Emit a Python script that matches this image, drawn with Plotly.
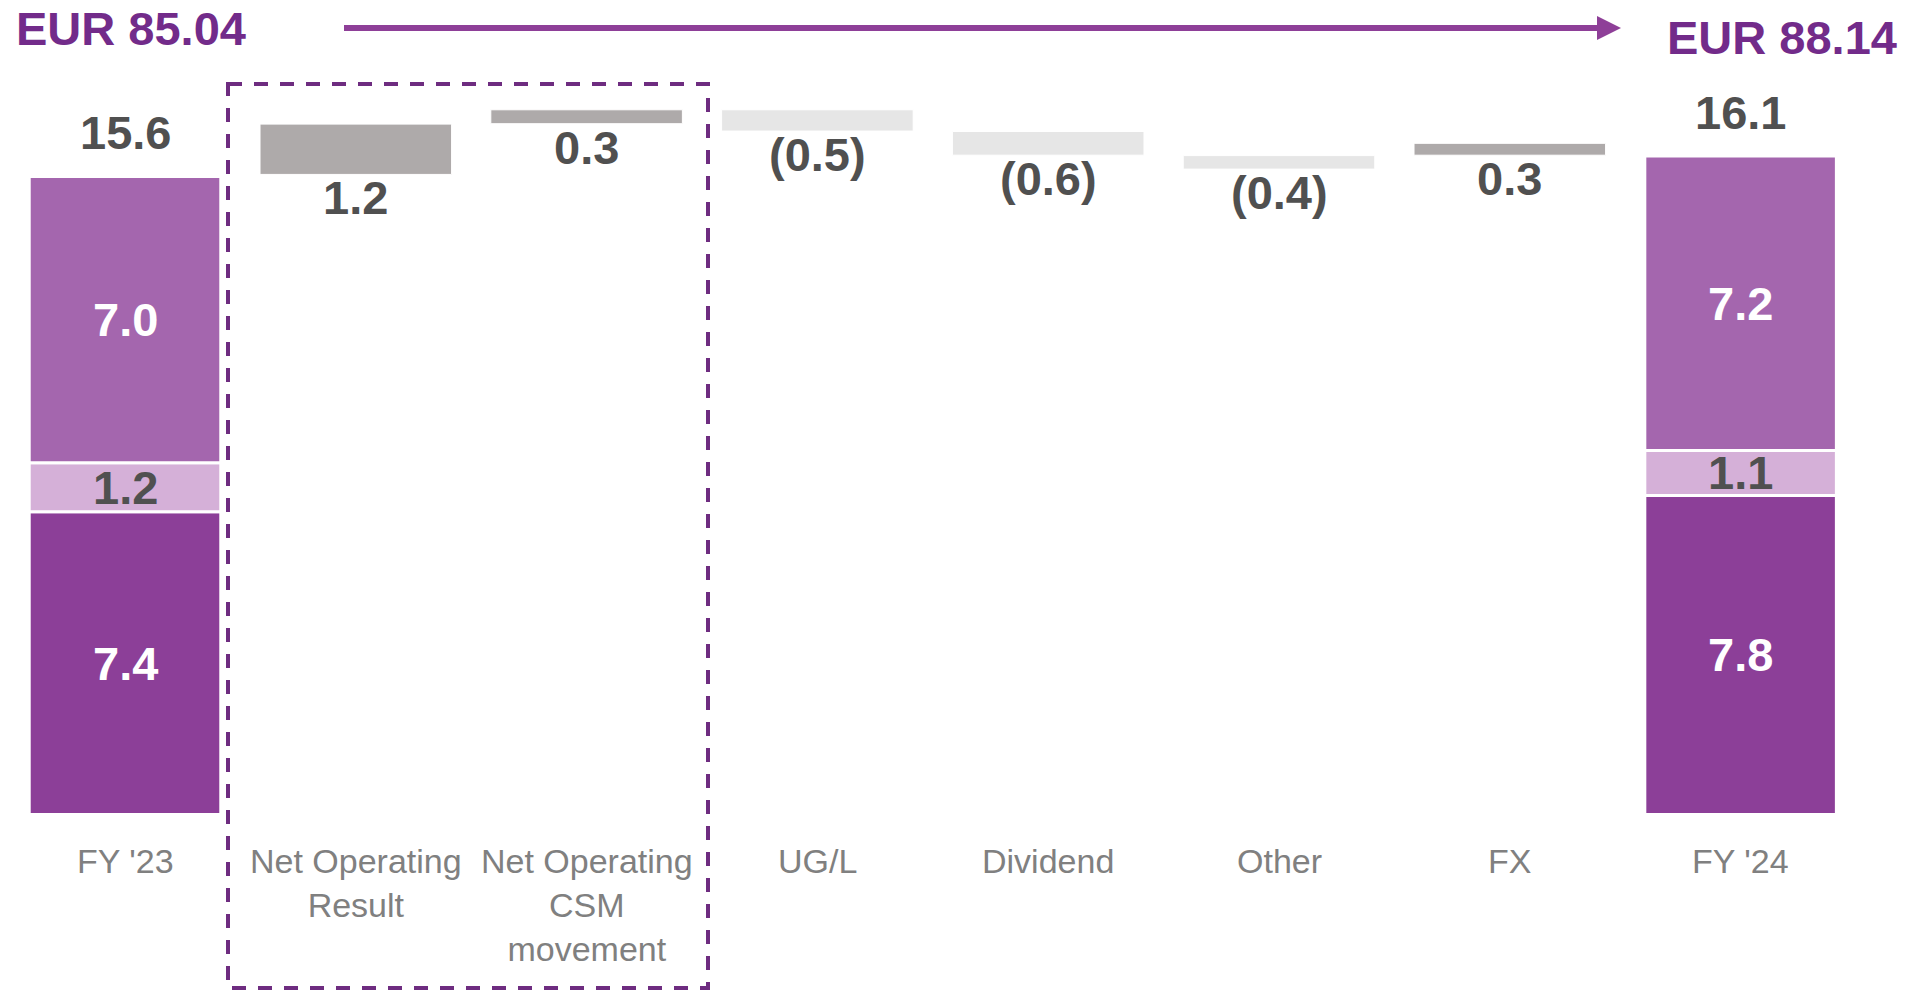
import plotly.graph_objects as go

# ---------------- data ----------------
categories = ["FY '23", "Net Operating<br>Result", "Net Operating<br>CSM<br>movement",
              "UG/L", "Dividend", "Other", "FX", "FY '24"]

# stacked totals (FY '23, FY '24): bottom / middle / top segments
seg_bottom = [7.4, 7.8]
seg_middle = [1.2, 1.1]
seg_top = [7.0, 7.2]
total_labels = ["15.6", "16.1"]

# movements between the two totals (start level and change)
move_base = [15.65, 16.89, 17.23, 16.70, 16.11, 16.12]
move_delta = [1.23, 0.34, -0.52, -0.58, -0.33, 0.29]
move_labels = ["1.2", "0.3", "(0.5)", "(0.6)", "(0.4)", "0.3"]

eur_start = "EUR 85.04"
eur_end = "EUR 88.14"

# ---------------- style ----------------
FONT = "Liberation Sans, Arial, sans-serif"
C_DARK = "#8C3F98"
C_MID = "#A466AE"
C_LIGHT = "#D5B0D8"
C_POS = "#AEAAAA"
C_NEG = "#E6E6E6"
C_TXT = "#505050"
C_CAT = "#808080"
C_EUR = "#722B8A"
C_ARROW = "#8E3F98"
C_BOX = "#6E2C80"

W, H = 1908, 990
BAR_W = 0.83
total_x = [0, len(categories) - 1]
move_x = list(range(1, len(categories) - 1))

fig = go.Figure()

mid_base = [b for b in seg_bottom]
top_base = [b + m for b, m in zip(seg_bottom, seg_middle)]
totals = [b + m + t for b, m, t in zip(seg_bottom, seg_middle, seg_top)]

line_white = dict(color="white", width=3)
fig.add_trace(go.Bar(x=total_x, y=seg_bottom, base=[0, 0], width=BAR_W,
                     marker=dict(color=C_DARK, line=line_white), hoverinfo="skip"))
fig.add_trace(go.Bar(x=total_x, y=seg_middle, base=mid_base, width=BAR_W,
                     marker=dict(color=C_LIGHT, line=line_white), hoverinfo="skip"))
fig.add_trace(go.Bar(x=total_x, y=seg_top, base=top_base, width=BAR_W,
                     marker=dict(color=C_MID, line=line_white), hoverinfo="skip"))

move_colors = [C_POS if d > 0 else C_NEG for d in move_delta]
fig.add_trace(go.Bar(x=move_x, y=move_delta, base=move_base, width=BAR_W,
                     marker=dict(color=move_colors, line=dict(color="white", width=1)),
                     hoverinfo="skip"))

ann = []
VAL_FONT = dict(family=FONT, size=47, color=C_TXT, weight="bold")

# segment labels
for i, x in enumerate(total_x):
    ann.append(dict(x=x, y=seg_bottom[i] / 2, text=f"{seg_bottom[i]:.1f}", showarrow=False,
                    font=dict(VAL_FONT, color="white"), yanchor="middle"))
    ann.append(dict(x=x, y=mid_base[i] + seg_middle[i] / 2, text=f"{seg_middle[i]:.1f}",
                    showarrow=False, font=VAL_FONT, yanchor="middle"))
    ann.append(dict(x=x, y=top_base[i] + seg_top[i] / 2, text=f"{seg_top[i]:.1f}",
                    showarrow=False, font=dict(VAL_FONT, color="white"), yanchor="middle"))
    ann.append(dict(x=x, y=totals[i], text=total_labels[i], showarrow=False,
                    font=VAL_FONT, yanchor="bottom", yshift=15))

# movement labels under each floating bar
for x, b, d, t in zip(move_x, move_base, move_delta, move_labels):
    ann.append(dict(x=x, y=min(b, b + d), text=t, showarrow=False, font=VAL_FONT,
                    yanchor="top", yshift=5))

# category labels
for x, c in enumerate(categories):
    ann.append(dict(x=x, y=0, yref="paper", text=c, showarrow=False,
                    font=dict(family=FONT, size=34, color=C_CAT),
                    yanchor="top", yshift=-27, align="center"))

# plot area: top at pixel 0, bottom at pixel 813
PLOT_BOTTOM = 813
def py(p):
    return (PLOT_BOTTOM - p) / PLOT_BOTTOM
def px(p):
    return p / W

ann.append(dict(x=px(14), y=py(29), xref="paper", yref="paper", text=eur_start,
                showarrow=False, xanchor="left", yanchor="middle",
                font=dict(family=FONT, size=47, color=C_EUR, weight="bold")))
ann.append(dict(x=px(1899), y=py(37), xref="paper", yref="paper", text=eur_end,
                showarrow=False, xanchor="right", yanchor="middle",
                font=dict(family=FONT, size=47, color=C_EUR, weight="bold")))

shapes = [
    dict(type="line", xref="paper", yref="paper", x0=px(344), x1=px(1600),
         y0=py(28), y1=py(28), line=dict(color=C_ARROW, width=6)),
    dict(type="path", xref="paper", yref="paper",
         path=f"M {px(1597)},{py(16)} L {px(1621)},{py(28)} L {px(1597)},{py(40)} Z",
         fillcolor=C_ARROW, line=dict(color=C_ARROW, width=0)),
    dict(type="rect", xref="paper", yref="paper", x0=px(228), x1=px(708),
         y0=py(84), y1=py(988), line=dict(color=C_BOX, width=4, dash="14px,12px"),
         fillcolor="rgba(0,0,0,0)"),
]

SPACING = 230.8
X0 = 125
PX_PER_UNIT = 40.9
Y_OFF = 1.5 / PX_PER_UNIT
fig.update_layout(
    width=W, height=H, autosize=False,
    margin=dict(l=0, r=0, t=0, b=H - PLOT_BOTTOM),
    paper_bgcolor="white", plot_bgcolor="white",
    barmode="overlay", showlegend=False,
    xaxis=dict(range=[-X0 / SPACING, (W - X0) / SPACING], visible=False, fixedrange=True),
    yaxis=dict(range=[Y_OFF, PLOT_BOTTOM / PX_PER_UNIT + Y_OFF], visible=False,
               fixedrange=True),
    annotations=ann, shapes=shapes,
)

fig.write_html("out.html")
